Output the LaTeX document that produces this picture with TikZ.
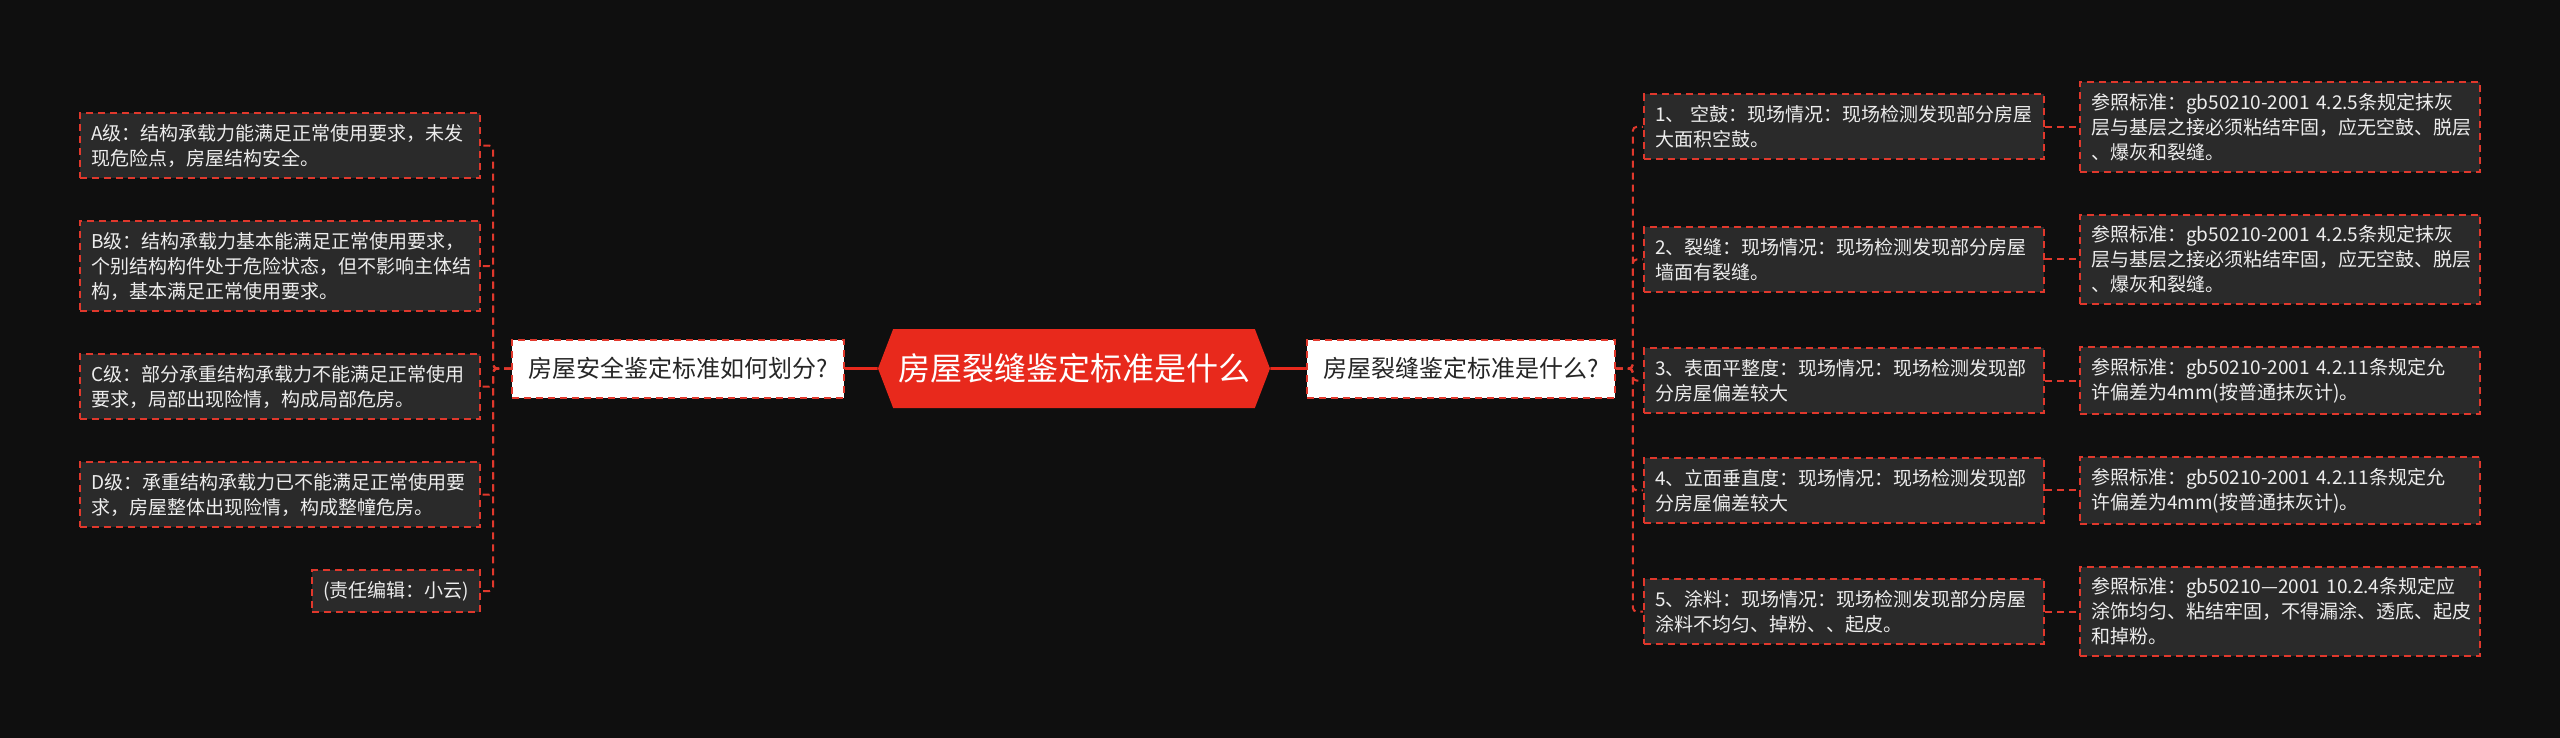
\documentclass[tikz,border=0pt]{standalone}
\usepackage{fontspec}
\setmainfont{Noto Sans CJK SC}
\usetikzlibrary{shapes.symbols,positioning}
\definecolor{bgdark}{HTML}{0F0F0F}
\definecolor{leafgray}{HTML}{2A2A2A}
\definecolor{dashred}{HTML}{E0382C}
\definecolor{hubred}{HTML}{E8291C}
\definecolor{leaftext}{HTML}{EDEDED}
\definecolor{midtext}{HTML}{262626}
\exhyphenpenalty=10000
\hyphenpenalty=10000

\begin{document}
\begin{tikzpicture}[x=0.5pt,y=-0.5pt,
    leaf/.style={draw=dashred,
        fill=leafgray,
        text=leaftext,
        line width=1pt,
        dash pattern=on 3.5pt off 2.5pt,
        inner xsep=5.5pt,
        inner ysep=5.5pt,
        align=left,
        font=\fontsize{9.5pt}{12.5pt}\selectfont},
    wide/.style={leaf, text width=189pt},
    mid/.style={draw=dashred,
        fill=white,
        text=midtext,
        line width=1pt,
        dash pattern=on 3.5pt off 2.5pt,
        inner xsep=8pt,
        minimum height=29pt,
        font=\fontsize{12pt}{14pt}\selectfont},
    hub/.style={signal,
        signal to=west and east,
        signal pointer angle=138,
        fill=hubred,
        text=white,
        minimum width=196pt,
        minimum height=39.5pt,
        inner sep=0pt,
        font=\fontsize{16pt}{18pt}\selectfont},
    link/.style={draw=dashred, line width=1pt, dash pattern=on 3.5pt off 2.5pt, rounded corners=2pt},
    trunk/.style={draw=hubred, line width=1.3pt}]

% Background
\fill[bgdark] (0,0) rectangle (2560,738);

% Central topic
\node[hub] (hub) at (1074,368.5) {房屋裂缝鉴定标准是什么};

% Left question
\node[mid, left=16.5pt of hub] (ask) {房屋安全鉴定标准如何划分?};

% Right question
\node[mid, right=18pt of hub] (what) {房屋裂缝鉴定标准是什么?};

% Safety grades
\node[wide, anchor=north east] (gradeA) at (481,112)
    {A级：结构承载力能满足正常使用要求，未发\\现危险点，房屋结构安全。};
\node[wide, below=20.5pt of gradeA] (gradeB)
    {B级：结构承载力基本能满足正常使用要求，\\个别结构构件处于危险状态，但不影响主体结\\构，基本满足正常使用要求。};
\node[wide, below=20.5pt of gradeB] (gradeC)
    {C级：部分承重结构承载力不能满足正常使用\\要求，局部出现险情，构成局部危房。};
\node[wide, below=20.5pt of gradeC] (gradeD)
    {D级：承重结构承载力已不能满足正常使用要\\求，房屋整体出现险情，构成整幢危房。};
\node[leaf, below left=20.5pt and 0pt of gradeD.south east] (editor)
    {(责任编辑：小云)};

% Reference standards
\node[wide, anchor=north west] (std1) at (2079,81)
    {参照标准：gb50210-2001~4.2.5条规定抹灰\\层与基层之接必须粘结牢固，应无空鼓、脱层\\、爆灰和裂缝。};
\node[wide, below=20.5pt of std1] (std2)
    {参照标准：gb50210-2001~4.2.5条规定抹灰\\层与基层之接必须粘结牢固，应无空鼓、脱层\\、爆灰和裂缝。};
\node[wide, below=20.5pt of std2] (std3)
    {参照标准：gb50210-2001~4.2.11条规定允\\许偏差为4mm(按普通抹灰计)。};
\node[wide, below=20.5pt of std3] (std4)
    {参照标准：gb50210-2001~4.2.11条规定允\\许偏差为4mm(按普通抹灰计)。};
\node[wide, below=20.5pt of std4] (std5)
    {参照标准：gb50210—2001~10.2.4条规定应\\涂饰均匀、粘结牢固，不得漏涂、透底、起皮\\和掉粉。};

% Crack cases
\node[wide, left=17pt of std1] (case1)
    {1、~空鼓：现场情况：现场检测发现部分房屋\\大面积空鼓。};
\node[wide, left=17pt of std2] (case2)
    {2、裂缝：现场情况：现场检测发现部分房屋\\墙面有裂缝。};
\node[wide, left=17pt of std3] (case3)
    {3、表面平整度：现场情况：现场检测发现部\\分房屋偏差较大};
\node[wide, left=17pt of std4] (case4)
    {4、立面垂直度：现场情况：现场检测发现部\\分房屋偏差较大};
\node[wide, left=17pt of std5] (case5)
    {5、涂料：现场情况：现场检测发现部分房屋\\涂料不均匀、掉粉、、起皮。};

% Forks
\coordinate[left=9pt of ask.west] (askfork);
\coordinate[right=8.5pt of what.east] (whatfork);

% Connectors
\draw[trunk] (ask) -- (hub)
    (hub) -- (what);

\foreach \grade in {gradeA,gradeB,gradeC,gradeD,editor}
    \draw[link] (ask.west) -- (askfork) |- (\grade.east);

\foreach \i in {1,...,5}{
    \draw[link] (what.east) -- (whatfork) |- (case\i.west);
    \draw[link] (case\i) -- (std\i);
}

\end{tikzpicture}
\end{document}
